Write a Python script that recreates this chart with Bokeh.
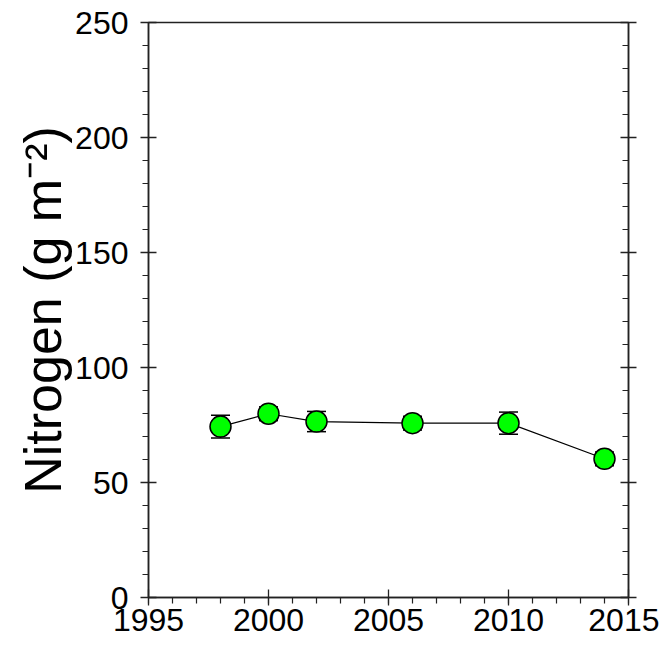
from bokeh.plotting import figure
from bokeh.models import (ColumnDataSource, Whisker, TeeHead, LinearAxis,
                          FixedTicker, Range1d)
from bokeh.embed import file_html
from bokeh.resources import INLINE

# ---- data ----
years = [1998, 2000, 2002, 2006, 2010, 2014]
nitrogen = [74.3, 79.9, 76.5, 75.8, 75.8, 60.3]
nitrogen_err = [4.9, 3.0, 4.4, 3.0, 4.8, 3.0]

x_ticks = [1995, 2000, 2005, 2010, 2015]
y_ticks = [0, 50, 100, 150, 200, 250]
x_minor = list(range(1995, 2016))
y_minor = list(range(0, 251, 10))

y_title = "Nitrogen (g m\u207b\u00b2)"

FONT = "Liberation Sans"

# ---- layout constants ----
FL, FT, FW, FH = 148, 22, 480, 575
X0, X1, Y0, Y1 = 1995, 2015, 0, 250

p = figure(frame_width=FW, frame_height=FH,
           x_range=Range1d(X0, X1), y_range=Range1d(Y0, Y1),
           output_backend="svg", toolbar_location=None,
           min_border_left=FL, min_border_top=FT,
           min_border_right=31, min_border_bottom=51)
p.grid.visible = False
p.outline_line_color = "#222222"
p.outline_line_width = 1.5
p.background_fill_color = "white"
p.border_fill_color = "white"

AX_COLOR = "#222222"

xa = p.xaxis[0]
xa.ticker = FixedTicker(ticks=x_ticks, minor_ticks=x_minor)
xa.major_tick_in = 8
xa.major_tick_out = 8
xa.minor_tick_in = 0
xa.minor_tick_out = 6
xa.major_label_text_font = FONT
xa.major_label_text_font_size = "32px"
xa.major_label_text_color = "black"
xa.major_label_standoff = 3

ya = p.yaxis[0]
ya.ticker = FixedTicker(ticks=y_ticks, minor_ticks=y_minor)
ya.major_tick_in = 8
ya.major_tick_out = 8
ya.minor_tick_in = 0
ya.minor_tick_out = 6
ya.major_label_text_font = FONT
ya.major_label_text_font_size = "32px"
ya.major_label_text_color = "black"
ya.major_label_standoff = 12
ya.axis_label = y_title
ya.axis_label_text_font = FONT
ya.axis_label_text_font_size = "52px"
ya.axis_label_text_font_style = "normal"
ya.axis_label_text_color = "black"
ya.axis_label_standoff = 0

ra = LinearAxis(ticker=FixedTicker(ticks=y_ticks, minor_ticks=y_minor),
                major_label_overrides={t: "" for t in y_ticks},
                major_tick_in=8, major_tick_out=8,
                minor_tick_in=6, minor_tick_out=0)
p.add_layout(ra, "right")

for a in [xa, ya, ra]:
    a.axis_line_color = AX_COLOR
    a.major_tick_line_color = AX_COLOR
    a.minor_tick_line_color = AX_COLOR
    a.axis_line_width = 1.5
    a.major_tick_line_width = 1.3
    a.minor_tick_line_width = 1.2

src = ColumnDataSource(data=dict(
    x=years, y=nitrogen,
    upper=[v + e for v, e in zip(nitrogen, nitrogen_err)],
    lower=[v - e for v, e in zip(nitrogen, nitrogen_err)],
))

p.line("x", "y", source=src, line_color="black", line_width=1.2)
w = Whisker(source=src, base="x", upper="upper", lower="lower",
            dimension="height", line_color="black", line_width=1.5,
            upper_head=TeeHead(size=19, line_color="black", line_width=1.5),
            lower_head=TeeHead(size=19, line_color="black", line_width=1.5))
p.add_layout(w)
p.scatter("x", "y", source=src, size=21, fill_color="#00ff00",
          line_color="black", line_width=1.5)

open("out.html", "w").write(file_html(p, INLINE))
